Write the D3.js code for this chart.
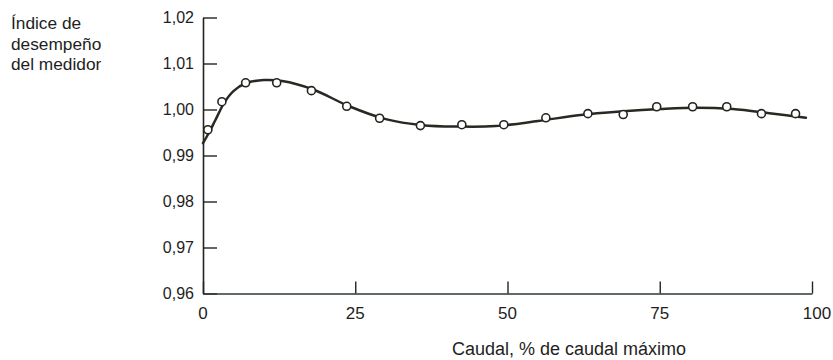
<!DOCTYPE html>
<html>
<head>
<meta charset="utf-8">
<script src="https://cdn.jsdelivr.net/npm/d3@7"></script>
<style>
  body { margin: 0; background: #fff; }
  text { font-family: "Liberation Sans", Arial, sans-serif; fill: #1e1e1e; }
</style>
</head>
<body>
<div id="chart"></div>
<script>
// measured points (open circles)
var pointX = [0.8, 3.1, 7.0, 12.1, 17.8, 23.6, 29.0, 35.7, 42.5, 49.4, 56.3, 63.2, 69.0, 74.5, 80.4, 86.0, 91.7, 97.3];
var pointY = [0.9956, 1.0017, 1.0058, 1.0058, 1.0041, 1.0007, 0.9981, 0.9965, 0.9967, 0.9967, 0.9982, 0.9991, 0.9989, 1.0006, 1.0006, 1.0006, 0.9991, 0.9991];

// fitted curve
var curveX = [0, 1, 2, 3.5, 5, 7, 10, 13, 18, 24, 30, 36, 42, 48, 55, 62, 69, 75, 81, 87, 93, 99];
var curveY = [0.9927, 0.9950, 0.9976, 1.0015, 1.0040, 1.0057, 1.0064, 1.0062, 1.0044, 1.0007, 0.9979, 0.9966, 0.9963, 0.9964, 0.9975, 0.9988, 0.9996, 1.0001, 1.0004, 1.0001, 0.9992, 0.9982];

var xTicks = [0, 25, 50, 75, 100];
var yTicks = [0.96, 0.97, 0.98, 0.99, 1.00, 1.01, 1.02];
var yTickLabels = ["0,96", "0,97", "0,98", "0,99", "1,00", "1,01", "1,02"];
var yTitle = ["Índice de", "desempeño", "del medidor"];
var xTitle = "Caudal, % de caudal máximo";

var width = 833, height = 360;
var ink = "#222420";

var svg = d3.select("#chart")
    .append("svg")
    .attr("width", width)
    .attr("height", height);

var x = d3.scaleLinear().domain([0, 100]).range([203, 812]);
var y = d3.scaleLinear().domain([0.96, 1.02]).range([293.5, 17.5]);

// y axis, ticks point into the plot
var yAxis = svg.append("g")
    .attr("transform", "translate(" + x(0) + ",0)")
    .call(d3.axisRight(y)
        .tickValues(yTicks)
        .tickSize(14)
        .tickSizeOuter(0)
        .tickFormat(""));
yAxis.select(".domain").attr("stroke", ink).attr("stroke-width", 1.6);
yAxis.selectAll(".tick line").attr("stroke", ink).attr("stroke-width", 1.4);

svg.selectAll(".ylab")
    .data(yTicks)
    .enter()
    .append("text")
    .attr("class", "ylab")
    .attr("x", 194)
    .attr("y", function(d) { return y(d); })
    .attr("dy", "0.36em")
    .style("text-anchor", "end")
    .attr("font-size", 16)
    .text(function(d, i) { return yTickLabels[i]; });

// x axis, ticks point up
var xAxis = svg.append("g")
    .attr("transform", "translate(0," + y(0.96) + ")")
    .call(d3.axisTop(x)
        .tickValues(xTicks)
        .tickSize(12)
        .tickSizeOuter(0)
        .tickFormat(""));
xAxis.select(".domain").attr("stroke", "#2c3a32").attr("stroke-width", 1.6);
xAxis.selectAll(".tick line").attr("stroke", ink).attr("stroke-width", 1.4);

svg.selectAll(".xlab")
    .data(xTicks)
    .enter()
    .append("text")
    .attr("class", "xlab")
    .attr("x", function(d) { return x(d) + (d === 100 ? 5 : 0); })
    .attr("y", 319)
    .style("text-anchor", "middle")
    .attr("font-size", 17)
    .text(function(d) { return d; });

// titles
svg.selectAll(".ytitle")
    .data(yTitle)
    .enter()
    .append("text")
    .attr("class", "ytitle")
    .attr("x", 11)
    .attr("y", function(d, i) { return 29 + i * 20.5; })
    .attr("font-size", 17.3)
    .text(function(d) { return d; });

svg.append("text")
    .attr("x", 452)
    .attr("y", 355)
    .attr("font-size", 18)
    .text(xTitle);

// curve
var line = d3.line()
    .x(function(d) { return x(d[0]); })
    .y(function(d) { return y(d[1]); })
    .curve(d3.curveCatmullRom.alpha(0.5));

svg.append("path")
    .datum(d3.zip(curveX, curveY))
    .attr("fill", "none")
    .attr("stroke", "#262a22")
    .attr("stroke-width", 2.5)
    .attr("stroke-linecap", "round")
    .attr("d", line);

// data points
svg.selectAll(".pt")
    .data(d3.zip(pointX, pointY))
    .enter()
    .append("circle")
    .attr("class", "pt")
    .attr("cx", function(d) { return x(d[0]); })
    .attr("cy", function(d) { return y(d[1]); })
    .attr("r", 4)
    .attr("fill", "#fff")
    .attr("stroke", ink)
    .attr("stroke-width", 1.6);
</script>
</body>
</html>
